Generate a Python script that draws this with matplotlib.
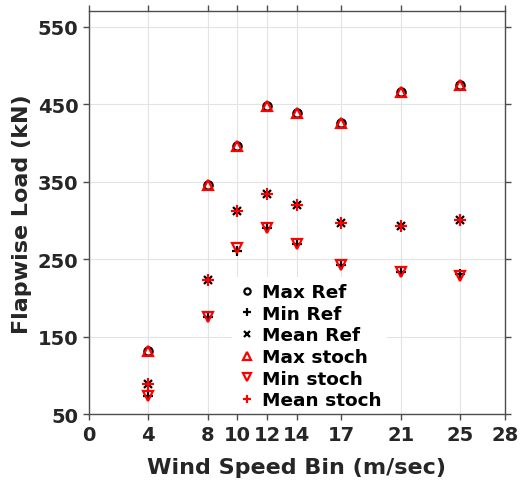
import matplotlib
matplotlib.use("Agg")
from matplotlib import pyplot as plt

# wind speed bins (m/sec)
bins = [4, 8, 10, 12, 14, 17, 21, 25]

# reference loads (kN)
max_ref = [131, 346, 396, 448, 439, 426, 466, 475]
min_ref = [73, 175, 261, 290, 269, 243, 233, 231]
mean_ref = [89, 223, 312, 334, 320, 297, 293, 301]

# stochastic loads (kN)
max_stoch = [131, 346, 396, 448, 439, 426, 466, 475]
min_stoch = [73, 175, 264, 290, 269, 243, 233, 228]
mean_stoch = [89, 223, 312, 334, 320, 297, 293, 301]

xticks = [0, 4, 8, 10, 12, 14, 17, 21, 25, 28]
yticks = [50, 150, 250, 350, 450, 550]

txt = '#262626'
plt.rcParams['font.family'] = 'DejaVu Sans'
plt.rcParams['font.weight'] = 'bold'

fig = plt.figure(figsize=(5.2, 4.89), dpi=100)
ax = fig.add_axes([0.171, 0.151, 0.8, 0.824])

ax.plot(bins, max_ref, 'o', mfc='none', mec='black', ms=6, mew=1.6, label='Max Ref')
ax.plot(bins, min_ref, '+', color='black', ms=7, mew=1.6, label='Min Ref')
ax.plot(bins, mean_ref, 'x', color='black', ms=6, mew=1.6, label='Mean Ref')
ax.plot(bins, max_stoch, '^', mfc='none', mec='red', ms=7, mew=1.6, label='Max stoch')
ax.plot(bins, min_stoch, 'v', mfc='none', mec='red', ms=7, mew=1.6, label='Min stoch')
ax.plot(bins, mean_stoch, '+', color='red', ms=8, mew=1.6, label='Mean stoch')

ax.set_xlim(0, 28)
ax.set_ylim(50, 570)
ax.set_xticks(xticks)
ax.set_yticks(yticks)
ax.grid(True, color='#e3e3e3', lw=0.8)
ax.set_axisbelow(True)

ax.tick_params(direction='out', top=True, right=True, length=4, width=1,
               colors='#4d4d4d', labelcolor=txt, labelsize=14)
for lab in ax.get_xticklabels() + ax.get_yticklabels():
    lab.set_fontweight('bold')
for s in ax.spines.values():
    s.set_color('#4d4d4d')
    s.set_linewidth(1)

ax.set_xlabel('Wind Speed Bin (m/sec)', fontsize=16, fontweight='bold', color=txt, labelpad=10)
ax.set_ylabel('Flapwise Load (kN)', fontsize=16, fontweight='bold', color=txt, labelpad=4)

leg = ax.legend(loc='lower center', bbox_to_anchor=(0.53, -0.025), frameon=True,
                prop={'weight': 'bold', 'size': 13.3}, handletextpad=0.3,
                handlelength=1.0, labelspacing=0.2, borderpad=0.3, markerscale=0.75)
leg.get_frame().set_edgecolor('none')
leg.get_frame().set_facecolor('white')
leg.get_frame().set_alpha(1)
# keep the axes box drawn over the legend background
leg.set_zorder(2.2)

plt.savefig('out.png', dpi=100)
plt.close('all')
